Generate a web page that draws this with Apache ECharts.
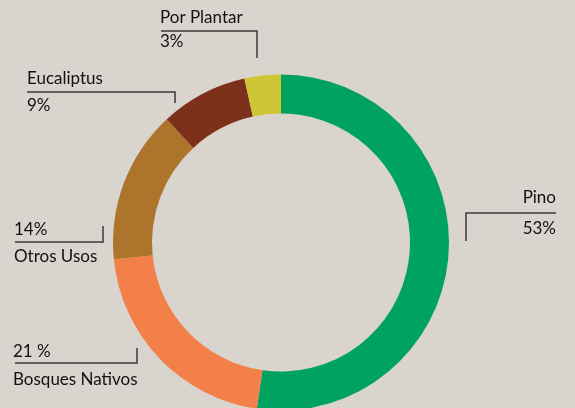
<!DOCTYPE html>
<html>
<head>
<meta charset="utf-8">
<script src="https://cdn.jsdelivr.net/npm/echarts@6/dist/echarts.min.js"></script>
<style>
  html, body { margin: 0; padding: 0; background: #d9d4ce; }
  #chart { width: 575px; height: 408px; }
</style>
</head>
<body>
<div id="chart"></div>
<script>
'use strict';

var categories = ['Pino', 'Bosques Nativos', 'Otros Usos', 'Eucaliptus', 'Por Plantar'];
var shares = [52.3, 21.1, 14.7, 8.4, 3.5];
var shareLabels = ['53%', '21 %', '14%', '9%', '3%'];
var colors = ['#00a262', '#f48049', '#ac752b', '#7e311a', '#cec735'];

// label placement (name / percentage / bracket line)
var annotations = [
	{ x: 556, align: 'right', nameY: 204, pctY: 235, line: [[466, 241], [466, 213], [556, 213]] },
	{ x: 13, align: 'left', nameY: 386, pctY: 358, line: [[15, 363], [137, 363], [137, 348]] },
	{ x: 14, align: 'left', nameY: 263, pctY: 236, line: [[15, 242], [103, 242], [103, 226]] },
	{ x: 27, align: 'left', nameY: 85, pctY: 112, line: [[27, 92], [175, 92], [175, 103]] },
	{ x: 160, align: 'left', nameY: 24, pctY: 48, line: [[161, 31], [257, 31], [257, 58]] }
];

var font = 'Lato, "Open Sans", sans-serif';

function buildGraphics(){
	var items = [];
	annotations.forEach(function(a, i){
		items.push({
			type: 'polyline',
			shape: { points: a.line },
			style: { stroke: '#3a3a3a', lineWidth: 1.5, fill: null }
		});
		items.push({
			type: 'text',
			x: a.x, y: a.nameY - 6,
			style: { text: categories[i], font: '17px ' + font, fill: '#111111', align: a.align, verticalAlign: 'middle' }
		});
		items.push({
			type: 'text',
			x: a.x, y: a.pctY - 6,
			style: { text: shareLabels[i], font: '17px ' + font, fill: '#111111', align: a.align, verticalAlign: 'middle' }
		});
	});
	return items;
}

var chart = echarts.init(document.getElementById('chart'));

chart.setOption({
	backgroundColor: '#d9d4ce',
	animation: false,
	color: colors,
	series: [{
		type: 'pie',
		center: [281, 242.5],
		radius: [129, 168],
		startAngle: 90,
		clockwise: true,
		label: { show: false },
		labelLine: { show: false },
		itemStyle: { borderWidth: 0 },
		emphasis: { disabled: true },
		data: categories.map(function(name, i){
			return { name: name, value: shares[i] };
		})
	}],
	graphic: buildGraphics()
});
</script>
</body>
</html>
